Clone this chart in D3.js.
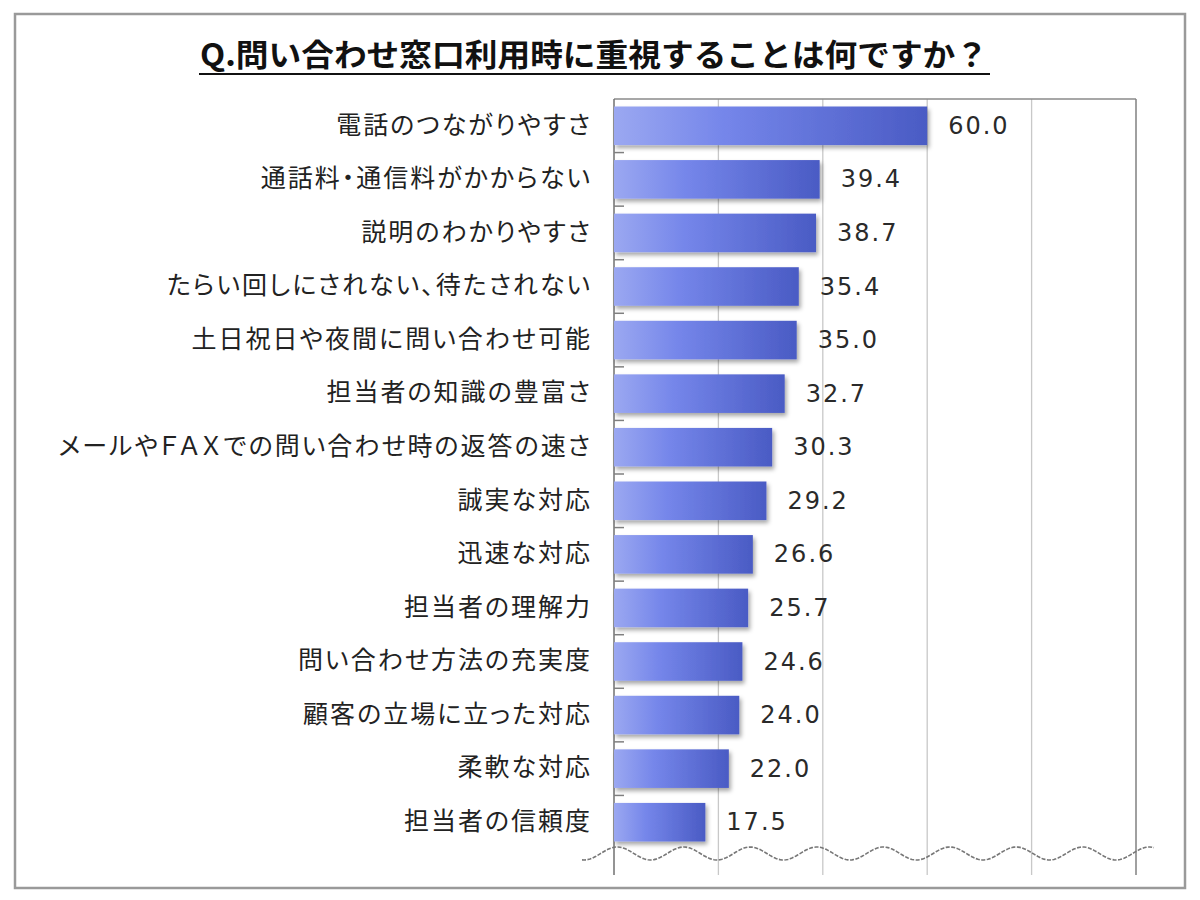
<!DOCTYPE html>
<html><head><meta charset="utf-8">
<script src="https://cdn.jsdelivr.net/npm/d3@7"></script>
<style>body{margin:0;background:#fff}svg{display:block}</style>
</head><body>
<svg id="chart" width="1200" height="900"></svg>
<script>
const title = "Q.問い合わせ窓口利用時に重視することは何ですか？";
const categories = ["電話のつながりやすさ","通話料・通信料がかからない","説明のわかりやすさ","たらい回しにされない、待たされない","土日祝日や夜間に問い合わせ可能","担当者の知識の豊富さ","メールやＦＡＸでの問い合わせ時の返答の速さ","誠実な対応","迅速な対応","担当者の理解力","問い合わせ方法の充実度","顧客の立場に立った対応","柔軟な対応","担当者の信頼度"];
const values = [60.0,39.4,38.7,35.4,35.0,32.7,30.3,29.2,26.6,25.7,24.6,24.0,22.0,17.5];
const gridTicks = [20,40,60,80];

const svg = d3.select("#chart");
const L = 614, R = 1136, T = 99, B = 849, AX_END = 875;

const defs = svg.append("defs");
const g1 = defs.append("linearGradient").attr("id","barGrad").attr("x1","0").attr("x2","1").attr("y1","0").attr("y2","0");
g1.append("stop").attr("offset","0%").attr("stop-color","#9ba8f1");
g1.append("stop").attr("offset","35%").attr("stop-color","#7586ea");
g1.append("stop").attr("offset","100%").attr("stop-color","#4a5bc4");
const f = defs.append("filter").attr("id","shadow").attr("x","-10%").attr("y","-30%").attr("width","130%").attr("height","180%");
f.append("feDropShadow").attr("dx",2).attr("dy",3).attr("stdDeviation",2.2).attr("flood-color","#000").attr("flood-opacity",0.35);

// outer border
svg.append("rect").attr("x",15).attr("y",14).attr("width",1170).attr("height",874)
  .attr("fill","none").attr("stroke","#9a9a9a").attr("stroke-width",2.5);

// title
svg.append("text").attr("x",594).attr("y",66).attr("text-anchor","middle")
  .attr("font-family","'Noto Sans CJK JP', sans-serif").attr("font-weight","bold")
  .attr("font-size",31).attr("fill","#111").attr("textLength",788).attr("lengthAdjust","spacingAndGlyphs").text(title);
svg.append("line").attr("x1",199).attr("x2",990).attr("y1",74).attr("y2",74).attr("stroke","#111").attr("stroke-width",2);

const x = d3.scaleLinear().domain([0,100]).range([L,R]);
const y = d3.scaleBand().domain(categories).range([T,B]).paddingInner(0.28).paddingOuter(0.14);

// gridlines
svg.append("g").selectAll("line").data(gridTicks).join("line")
  .attr("x1",d=>x(d)).attr("x2",d=>x(d)).attr("y1",T).attr("y2",AX_END)
  .attr("stroke","#c8c8c8").attr("stroke-width",1.3);

// frame
svg.append("line").attr("x1",L).attr("x2",R).attr("y1",T).attr("y2",T).attr("stroke","#8a8a8a").attr("stroke-width",1.5);
svg.append("line").attr("x1",R).attr("x2",R).attr("y1",T).attr("y2",AX_END).attr("stroke","#808080").attr("stroke-width",1.5);
svg.append("line").attr("x1",L).attr("x2",L).attr("y1",T).attr("y2",AX_END).attr("stroke","#707070").attr("stroke-width",1.5);

// inside ticks at band boundaries
const step = y.step(), gap = (step - y.bandwidth())/2;
svg.append("g").selectAll("line").data(categories.slice(1)).join("line")
  .attr("x1",L).attr("x2",L+10).attr("y1",d=>y(d)-gap).attr("y2",d=>y(d)-gap)
  .attr("stroke","#808080").attr("stroke-width",1.5);

// bars
svg.append("g").selectAll("rect").data(values).join("rect")
  .attr("x",x(0)).attr("y",(d,i)=>y(categories[i]))
  .attr("width",d=>x(d)-x(0)).attr("height",y.bandwidth())
  .attr("fill","url(#barGrad)").attr("filter","url(#shadow)");

// value labels
svg.append("g").selectAll("text").data(values).join("text")
  .attr("x",d=>x(d)+21).attr("y",(d,i)=>y(categories[i])+y.bandwidth()/2+1)
  .attr("dominant-baseline","middle")
  .attr("font-family","'DejaVu Sans', sans-serif").attr("font-size",24).attr("letter-spacing","2px")
  .attr("fill","#2a2a2a").text(d=>d.toFixed(1));

// category labels
const ls = 2;
svg.append("g").selectAll("text").data(categories).join("text")
  .attr("x",590+ls).attr("y",d=>y(d)+y.bandwidth()/2+1)
  .attr("text-anchor","end").attr("dominant-baseline","middle")
  .attr("font-family","'Noto Sans CJK JP', sans-serif").attr("font-size",25).attr("letter-spacing",ls+"px")
  .style("font-feature-settings","'palt' 1")
  .attr("fill","#222").text(d=>d);

// wavy break line
const wave = d3.range(582, 1156, 2).map(px => [px, 853.5 + 6.5*Math.cos((px-584)/66.5*2*Math.PI)]);
svg.append("path").attr("d",d3.line()(wave)).attr("fill","none")
  .attr("stroke","#777").attr("stroke-width",1.6).attr("stroke-dasharray","4,1.5");
</script>
</body></html>
